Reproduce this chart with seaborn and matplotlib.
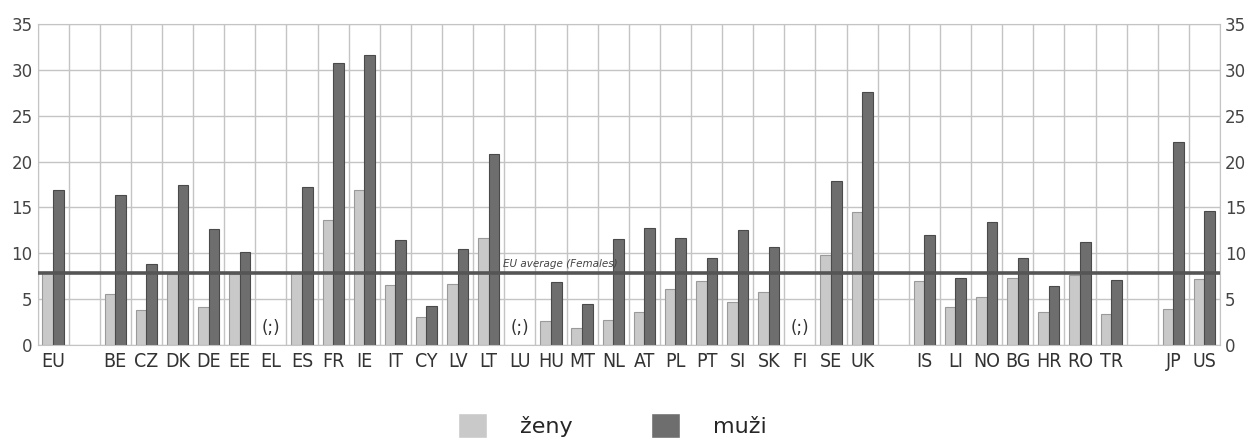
import numpy as np
import pandas as pd
import matplotlib
matplotlib.use("Agg")
import matplotlib.pyplot as plt
import seaborn as sns
from matplotlib.patches import Patch

# Slots along the x axis (gaps are blank slots, EL/LU/FI have no data)
order = ["EU", " ", "BE", "CZ", "DK", "DE", "EE", "EL", "ES", "FR", "IE", "IT",
         "CY", "LV", "LT", "LU", "HU", "MT", "NL", "AT", "PL", "PT", "SI", "SK",
         "FI", "SE", "UK", "  ", "IS", "LI", "NO", "BG", "HR", "RO", "TR", "   ",
         "JP", "US"]
missing = ["EL", "LU", "FI"]

countries = ["EU", "BE", "CZ", "DK", "DE", "EE", "ES", "FR", "IE", "IT", "CY",
             "LV", "LT", "HU", "MT", "NL", "AT", "PL", "PT", "SI", "SK", "SE",
             "UK", "IS", "LI", "NO", "BG", "HR", "RO", "TR", "JP", "US"]
zeny = [8.0, 5.6, 3.8, 7.7, 4.1, 7.7, 7.9, 13.6, 16.9, 6.5, 3.1,
        6.7, 11.7, 2.65, 1.8, 2.7, 3.6, 6.1, 7.0, 4.7, 5.8, 9.8,
        14.5, 7.0, 4.1, 5.2, 7.3, 3.6, 7.6, 3.35, 3.95, 7.2]
muzi = [16.9, 16.4, 8.8, 17.4, 12.7, 10.1, 17.2, 30.8, 31.6, 11.4, 4.25,
        10.5, 20.8, 6.9, 4.5, 11.6, 12.8, 11.7, 9.5, 12.5, 10.7, 17.9,
        27.6, 12.0, 7.3, 13.4, 9.45, 6.4, 11.2, 7.1, 22.1, 14.6]
eu_avg_females = 7.9

df = pd.DataFrame({"country": countries * 2,
                   "value": zeny + muzi,
                   "sex": ["ženy"] * len(countries) + ["muži"] * len(countries)})

sns.set_style("white")
plt.rcParams["font.family"] = ["DejaVu Sans"]

fig, ax = plt.subplots(figsize=(12.5, 4.4), dpi=100)
fig.subplots_adjust(left=0.03, right=0.976, top=0.945, bottom=0.216)

sns.barplot(data=df, x="country", y="value", hue="sex", order=order,
            hue_order=["ženy", "muži"], palette=["#c9c9c9", "#6e6e6e"],
            width=0.68, ax=ax, legend=False)

for cont, ec in zip(ax.containers, ["#9a9a9a", "#4a4a4a"]):
    for p in cont:
        p.set_edgecolor(ec)
        p.set_linewidth(0.8)

# grid: one vertical line between each slot, horizontal at every 5
for i in range(len(order) + 1):
    ax.axvline(i - 0.5, color="#c4c4c4", lw=1, zorder=0)
ax.set_ylim(0, 35)
ax.set_xlim(-0.5, len(order) - 0.5)
ax.set_yticks(range(0, 36, 5))
ax.yaxis.grid(True, color="#c4c4c4", lw=1)
ax.set_axisbelow(True)

ax.axhline(eu_avg_females, color="#555555", lw=2.6, zorder=5)
ax.text(order.index("LT") + 0.45, eu_avg_females + 0.35, "EU average (Females)",
        fontsize=7.5, style="italic", color="#444444", ha="left", va="bottom",
        zorder=6)

for m in missing:
    ax.text(order.index(m), 1.9, "(;)", fontsize=12, ha="center", va="center",
            color="#333333")

for s in ax.spines.values():
    s.set_color("#c4c4c4")

ax.set_xlabel("")
ax.set_ylabel("")
ax.tick_params(axis="both", length=0, labelsize=12, colors="#444444",
               labelright=True)
ax.tick_params(axis="x", pad=5)
ax.set_xticks(range(len(order)))
ax.set_xticklabels(order, fontsize=14, fontstretch="condensed",
                   fontweight="light", color="#333333")

# legend below
handles = [Patch(facecolor="#c9c9c9", label="ženy"),
           Patch(facecolor="#6e6e6e", label="muži")]
fig.legend(handles=handles, loc="lower center", bbox_to_anchor=(0.49, -0.04),
           ncol=2, frameon=False, fontsize=16, handlelength=1.3,
           handleheight=1.3, columnspacing=3.5, handletextpad=1.5)

plt.savefig("out.png")
